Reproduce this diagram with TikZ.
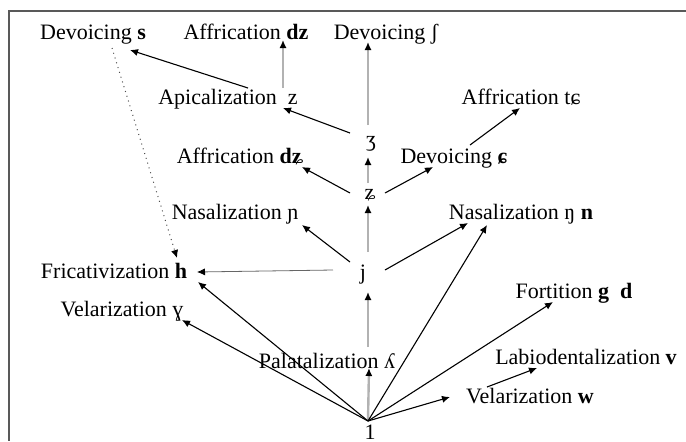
\documentclass[tikz,border=0pt]{standalone}
\usepackage{fontspec}
\setmainfont{Liberation Serif}
\usetikzlibrary{arrows.meta,positioning}

\begin{document}
\begin{tikzpicture}[
        x=0.5pt, y=-0.5pt,
        font=\fontsize{11pt}{13pt}\selectfont,
        lbl/.style={inner sep=0pt, text height=8pt, text depth=2pt, align=center},
        tip/.style={-{Latex[length=4pt,width=3.6pt,black]}},
        chg/.style={tip, draw=black, line width=0.55pt},
        gchg/.style={tip, draw=black!30, line width=1.2pt},
        weak/.style={tip, draw=black!60, line width=0.4pt},
        link/.style={tip, draw=black!70, line width=0.5pt, dotted},
        frame/.style={draw=black!65, line width=1pt}
    ]
    \useasboundingbox (0,0) rectangle (686,441);
    \draw[frame] (686,11) -| (9,441);

    % top row
    \node[lbl] (sDev) at (93,33) {Devoicing \textbf{s}};
    \node[lbl] (dzAff) at (246,33) {Affrication \textbf{dz}};
    \node[lbl] (shDev) at (386,33) {Devoicing ʃ};

    % upper middle
    \node[lbl] (apic) at (228,98) {Apicalization\ \ z};
    \node[lbl] (tcAff) at (521,98) {Affrication tɕ};
    \node[lbl] (zh) at (371,140) {ʒ};
    \node[lbl] (dzcAff) at (240,157) {Affrication \textbf{dʑ}};
    \node[lbl] (cDev) at (454,157) {Devoicing \textbf{ɕ}};
    \node[lbl] (zc) at (370,193) {ʑ};
    \node[lbl] (palNas) at (235,213) {Nasalization ɲ};
    \node[lbl] (velNas) at (521,213) {Nasalization ŋ \textbf{n}};

    % j level
    \node[lbl] (j) at (363,273) {j};
    \node[lbl] (fric) at (114,272) {Fricativization \textbf{h}};
    \node[lbl] (fort) at (574,292) {Fortition \textbf{g}\ \ \textbf{d}};

    % lower row
    \node[lbl] (velG) at (122,310) {Velarization ɣ};
    \node[lbl] (pal) at (327,362) {Palatalization ʎ};
    \node[lbl] (labio) at (586,358) {Labiodentalization \textbf{v}};
    \node[lbl] (velW) at (530,397) {Velarization \textbf{w}};
    \node[lbl] (one) at (370,433) {1};

    % main column
    \draw[gchg] ([shift={(-2,-12)}]one.center) -- ([shift={(-1,6)}]pal.center -| one);
    \draw[gchg] ([shift={(-2,-15)}]pal.center -| one) -- ([shift={(5,19)}]j.center);
    \draw[gchg] ([shift={(5,-21)}]j.center) -- ([shift={(-2,12)}]zc.center);
    \draw[gchg] ([shift={(-2,-10)}]zc.center) -- ([shift={(-3,17)}]zh.center);
    \draw[gchg] ([shift={(-3,-15)}]zh.center) -- ([shift={(-18,9)}]shDev.center);
    \draw[gchg] ([shift={(55,-10)}]apic.center) -- ([shift={(37,7)}]dzAff.center);

    % branches from the upper sounds
    \draw[chg] ([shift={(20,-10)}]apic.center) -- ([shift={(37,17)}]sDev.center);
    \draw[chg] ([shift={(-21,-7)}]zh.center) -- ([shift={(55,10)}]apic.center);
    \draw[chg] ([shift={(-20,0)}]zc.center) -- ([shift={(62,10)}]dzcAff.center);
    \draw[chg] ([shift={(15,0)}]zc.center) -- ([shift={(-21,10)}]cDev.center);
    \draw[chg] ([shift={(16,-12)}]cDev.center) -- ([shift={(-1,10)}]tcAff.center);
    \draw[chg] ([shift={(-13,-11)}]j.center) -- ([shift={(67,12)}]palNas.center);
    \draw[chg] ([shift={(22,-3)}]j.center) -- ([shift={(-53,10)}]velNas.center);
    \draw[weak] ([shift={(-30,-3)}]j.center) -- ([shift={(83,0)}]fric.center);
    \draw[link] ([shift={(19,15)}]sDev.center) -- ([shift={(63,-14)}]fric.center);

    % branches from 1
    \draw[chg] ([shift={(-2,-12)}]one.center) -- ([shift={(84,10)}]fric.center);
    \draw[chg] ([shift={(-2,-12)}]one.center) -- ([shift={(60,10)}]velG.center);
    \draw[chg] ([shift={(-2,-12)}]one.center) -- ([shift={(-34,12)}]velNas.center);
    \draw[chg] ([shift={(-2,-12)}]one.center) -- ([shift={(-21,10)}]fort.center);
    \draw[chg] ([shift={(-2,-12)}]one.center) -- ([shift={(-80,0)}]velW.center);
    \draw[chg] ([shift={(-43,-10)}]velW.center) -- ([shift={(-49,10)}]labio.center);

\end{tikzpicture}
\end{document}
